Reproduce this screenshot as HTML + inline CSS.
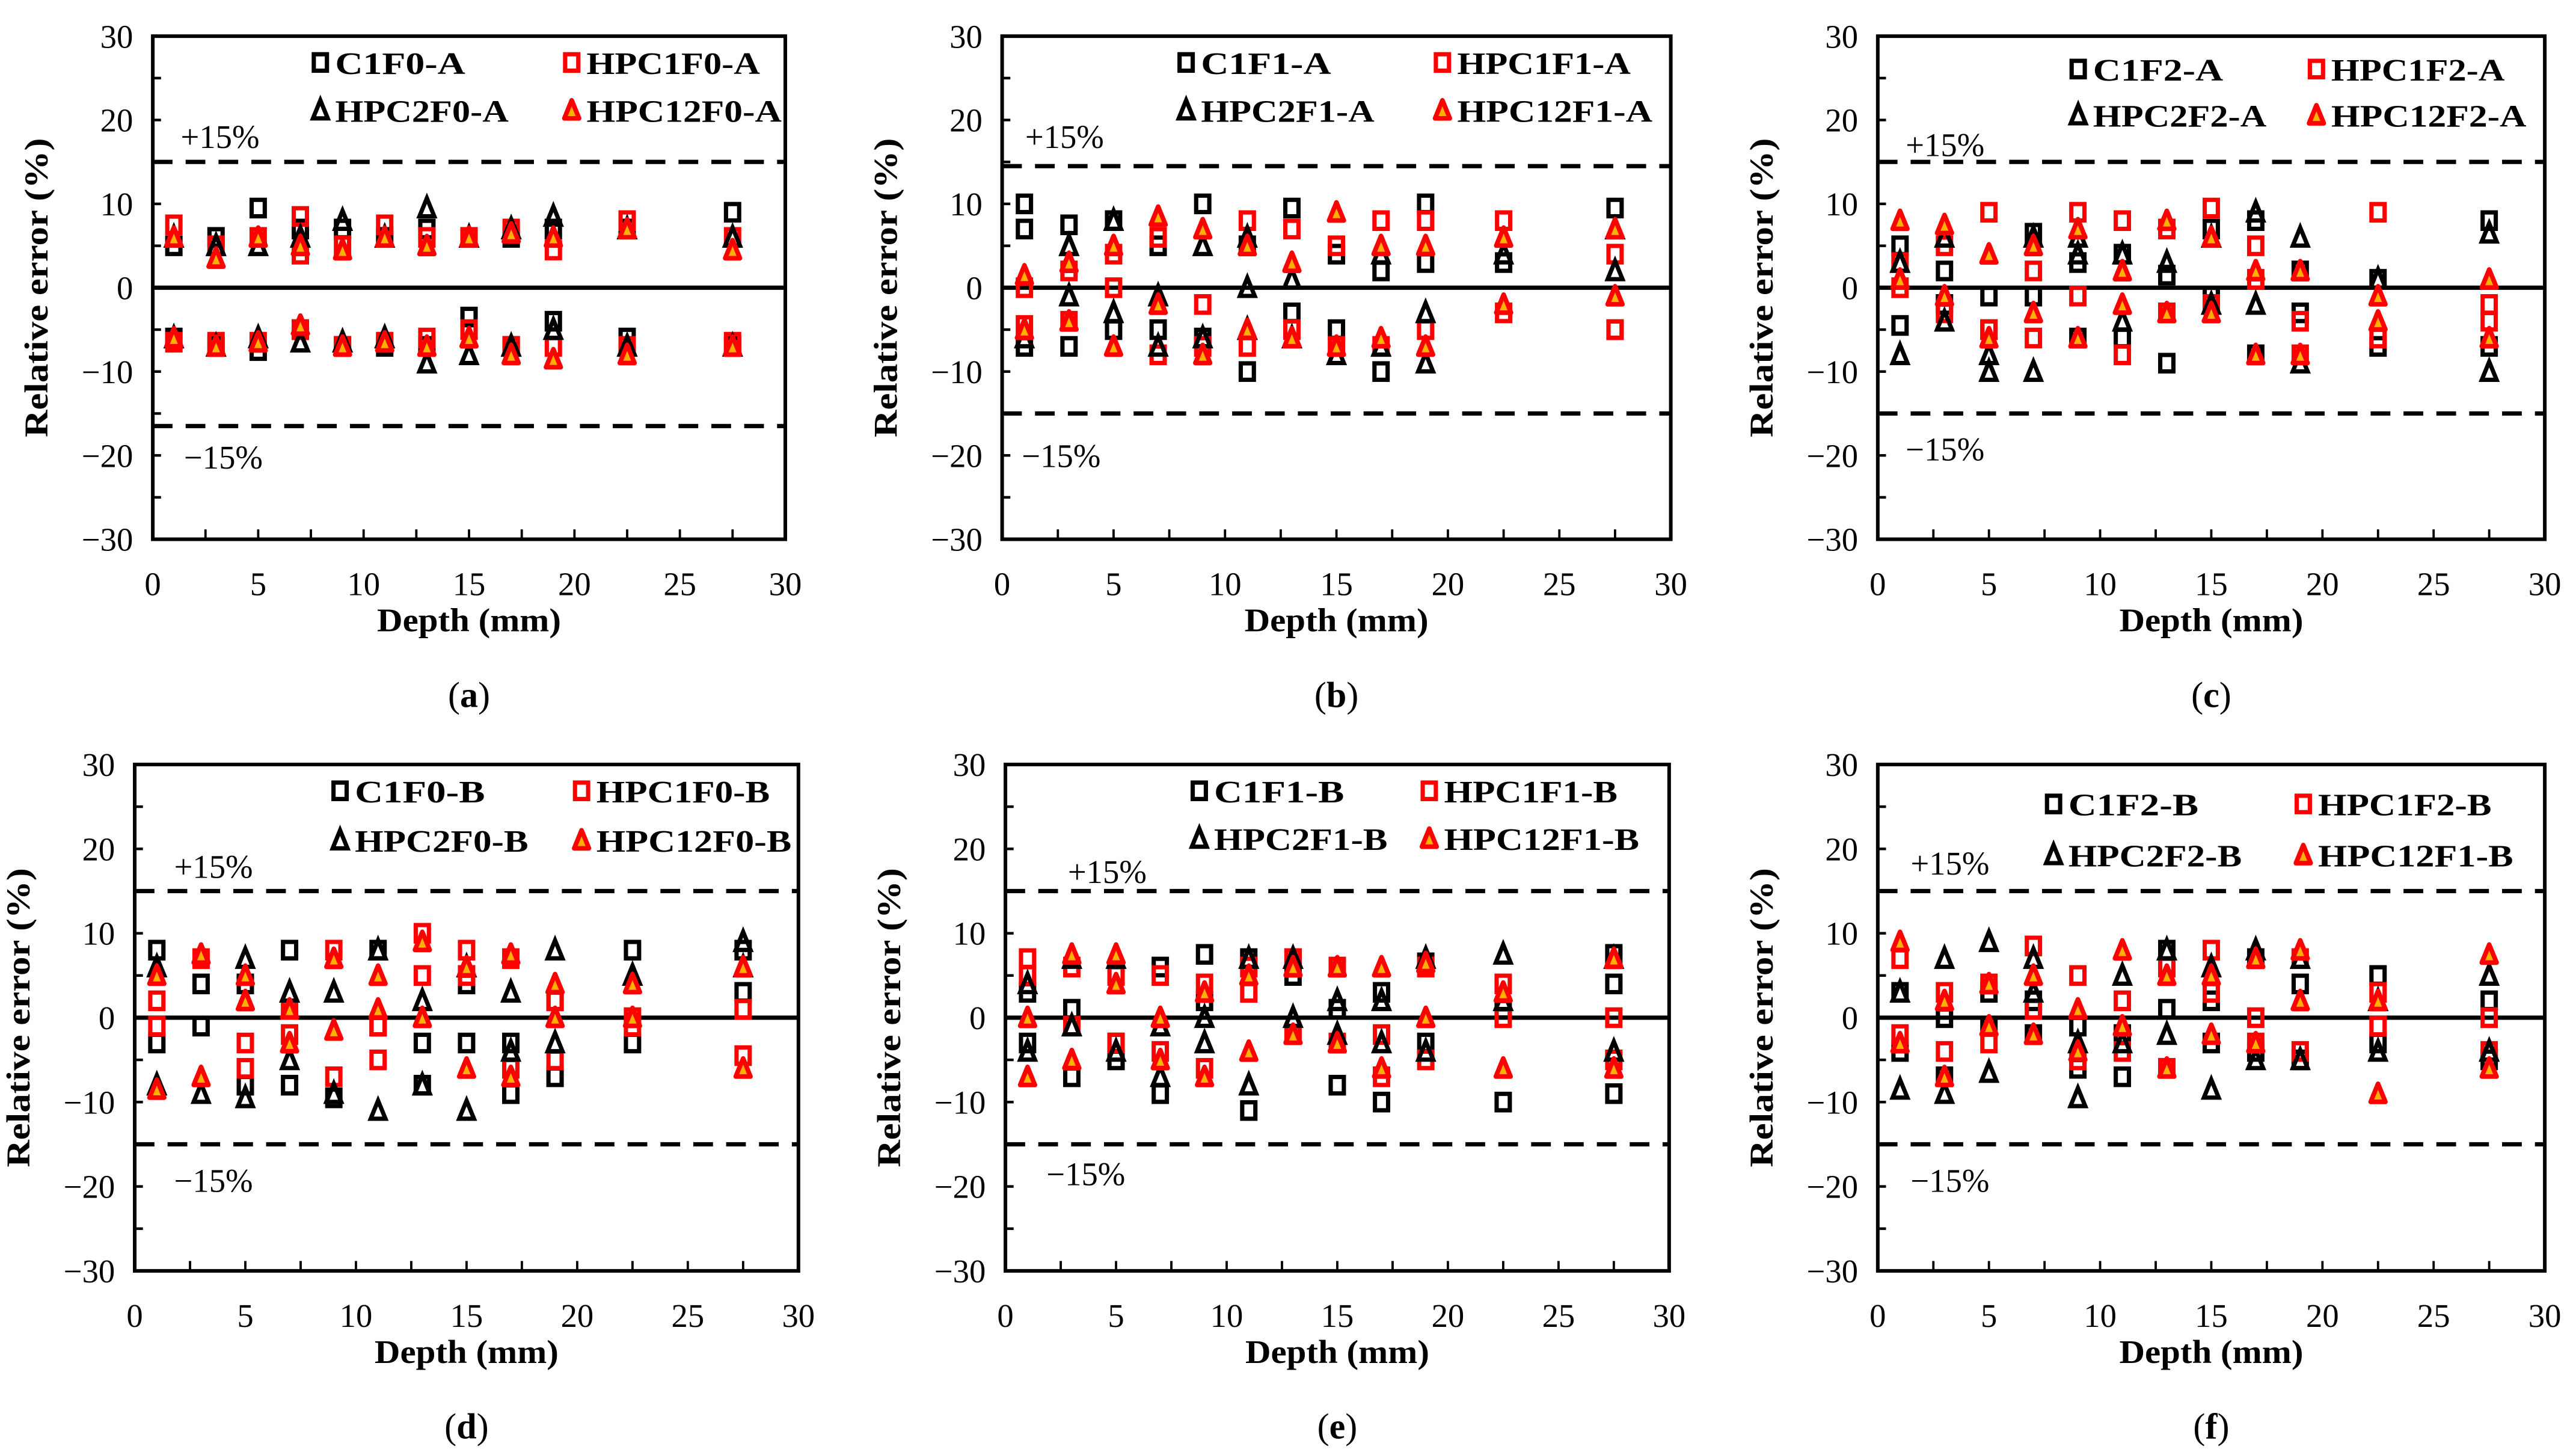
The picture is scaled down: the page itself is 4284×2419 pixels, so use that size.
<!DOCTYPE html>
<html><head><meta charset="utf-8"><style>
html,body{margin:0;padding:0;background:#fff;}
svg{display:block;font-family:"Liberation Serif","Times New Roman",serif;}
text{font-family:"Liberation Serif","Times New Roman",serif;fill:#000;}
</style></head><body>
<svg id="fig" width="4284" height="2419" viewBox="0 0 1568 885" preserveAspectRatio="none" font-family="Liberation Serif, Times New Roman, serif" xmlns="http://www.w3.org/2000/svg">
<rect width="1568" height="885" fill="#fff"/>
</svg>
<script>
// ---- data (depth mm, relative error %) ----
const xTicks=[0,5,10,15,20,25,30];
const yTicks=[30,20,10,0,-10,-20,-30];
const panelIds=['a','b','c','d','e','f'];
const seriesNames={
a:['C1F0-A','HPC1F0-A','HPC2F0-A','HPC12F0-A'],
b:['C1F1-A','HPC1F1-A','HPC2F1-A','HPC12F1-A'],
c:['C1F2-A','HPC1F2-A','HPC2F2-A','HPC12F2-A'],
d:['C1F0-B','HPC1F0-B','HPC2F0-B','HPC12F0-B'],
e:['C1F1-B','HPC1F1-B','HPC2F1-B','HPC12F1-B'],
f:['C1F2-B','HPC1F2-B','HPC2F2-B','HPC12F1-B']};
const boundsUpper={a:15,b:14.5,c:15,d:15,e:15,f:15};
const boundsLower={a:-16.5,b:-15,c:-15,d:-15,e:-15,f:-15};
// points as [depth, error]
const aS1=[[1,5],[3,6],[5,9.5],[7,7],[9,7],[11,6],[13,7],[15,6],[17,6],[19,7],[22.5,7],[27.5,9],[1,-6],[3,-7],[5,-7.5],[7,-5],[9,-7],[11,-7],[13,-7],[15,-3.5],[17,-7],[19,-4],[22.5,-6],[27.5,-7]];
const aS2=[[1,7.5],[3,5],[5,6],[7,4],[9,5],[11,7.5],[13,6],[15,6],[17,7],[19,4.5],[22.5,8],[27.5,6],[7,8.5],[1,-6.5],[3,-6.5],[5,-6.5],[7,-5],[9,-7],[11,-6.5],[13,-6],[15,-5],[17,-7],[19,-7],[22.5,-7],[27.5,-6.5]];
const aS3=[[1,6],[3,5],[5,5],[7,6],[9,8],[11,6],[13,9.5],[15,6],[17,7],[19,8.5],[22.5,7],[27.5,6],[1,-6],[3,-7],[5,-6],[7,-6.5],[9,-6.5],[11,-6],[13,-9],[15,-8],[17,-7],[19,-5],[22.5,-7],[27.5,-7]];
const aS4=[[1,6],[3,3.5],[5,6],[7,5],[9,4.5],[11,6],[13,5],[15,6],[17,6.5],[19,6],[22.5,7],[27.5,4.5],[1,-6],[3,-7],[5,-6.5],[7,-4.5],[9,-7],[11,-6.5],[13,-7],[15,-6],[17,-8],[19,-8.5],[22.5,-8],[27.5,-7]];
const bS1=[[1,10],[1,7],[1,-7],[3,7.5],[3,-7],[5,8],[5,-5],[7,5],[7,-5],[9,10],[9,-6],[11,5],[11,-10],[13,9.5],[13,-3],[15,4],[15,-5],[17,2],[17,-10],[19,10],[19,3],[22.5,3],[27.5,9.5],[27.5,-5]];
const bS2=[[1,0],[1,-4.5],[3,2],[3,-4],[5,0],[5,4],[7,6],[7,-8],[9,-2],[9,-7],[11,8],[11,-7],[13,7],[13,-5],[15,5],[15,-7],[17,8],[17,-7],[19,8],[19,-5],[22.5,8],[22.5,-3],[27.5,4],[27.5,-5]];
const bS3=[[1,-6],[3,5],[3,-1],[5,8],[5,-3],[7,-1],[7,-7],[9,5],[9,-6],[11,6],[11,-5],[11,0],[13,-6],[13,1],[15,-8],[17,4],[17,-7],[19,-3],[19,-9],[22.5,4],[27.5,2],[27.5,7]];
const bS4=[[1,1.5],[1,-5],[3,3],[3,-4],[5,5],[5,-7],[7,8.5],[7,-2],[9,7],[9,-8],[11,5],[11,-5],[13,3],[13,-6],[15,9],[15,-7],[17,5],[17,-6],[19,5],[19,-7],[22.5,6],[22.5,-2],[27.5,7],[27.5,-1]];
const cS1=[[1,5],[1,-4.5],[3,2],[3,-2],[5,-1],[5,-5],[7,6.5],[7,-1],[9,3],[9,-6],[11,4],[11,-6],[13,1.5],[13,-9],[15,7],[15,-1],[17,8],[17,-8],[19,2],[19,-3],[22.5,1],[22.5,-7],[27.5,8],[27.5,-7]];
const cS2=[[1,3],[1,0],[3,5],[3,-3],[5,9],[5,-5],[7,2],[7,-6],[9,9],[9,-1],[11,8],[11,-8],[13,7],[13,-3],[15,9.5],[15,-2],[17,5],[17,1],[19,-4],[19,-8],[22.5,9],[22.5,-6],[27.5,-2],[27.5,-4]];
const cS3=[[1,-8],[1,3],[3,-4],[3,6],[5,-10],[5,-8],[7,-10],[7,6],[9,6],[9,4],[11,-4],[11,4],[13,3],[15,6],[15,-2],[17,9],[17,-2],[19,6],[19,-9],[22.5,1],[27.5,-10],[27.5,6.5]];
const cS4=[[1,8],[1,1],[3,7.5],[3,-1],[5,4],[5,-6],[7,5],[7,-3],[9,7],[9,-6],[11,2],[11,-2],[13,8],[13,-3],[15,6],[15,-3],[17,2],[17,-8],[19,2],[19,-8],[22.5,-4],[22.5,-1],[27.5,1],[27.5,-6]];
const dS1=[[1,8],[1,-3],[3,4],[3,-1],[5,4],[5,-8],[7,8],[7,-8],[9,-9.5],[11,8],[11,-1],[13,-3],[13,-8],[15,4],[15,-3],[17,-3],[17,-9],[19,2],[19,-7],[22.5,8],[22.5,-3],[27.5,8],[27.5,3]];
const dS2=[[1,2],[1,-1],[3,7],[5,-3],[5,-6],[7,1],[7,-2],[9,8],[9,-7],[11,-1],[11,-5],[13,10],[13,5],[15,8],[15,5],[17,7],[17,-6],[19,2],[19,-5],[22.5,0],[22.5,-1],[27.5,1],[27.5,-4.5]];
const dS3=[[1,6],[1,-8],[3,-9],[5,7],[5,-9.5],[7,3],[7,-5],[9,3],[9,-9],[11,8],[11,-11],[13,2],[13,-8],[15,6],[15,-11],[17,3],[17,-4],[19,8],[19,-3],[22.5,5],[27.5,9],[27.5,6]];
const dS4=[[1,5],[1,-8.5],[3,7.5],[3,-7],[5,5],[5,2],[7,1],[7,-3],[9,7],[9,-1.5],[11,5],[11,1],[13,9],[13,0],[15,6],[15,-6],[17,7.5],[17,-7],[19,4],[19,0],[22.5,4],[22.5,0],[27.5,6],[27.5,-6]];
const eS1=[[1,-3],[1,3],[3,1],[3,-7],[5,-3],[5,-5],[7,6],[7,-9],[9,7.5],[9,2],[11,7],[11,-11],[13,7],[13,5],[15,1],[15,-8],[17,3],[17,-10],[19,6.5],[19,-3],[22.5,1],[22.5,-10],[27.5,7.5],[27.5,-9],[27.5,4]];
const eS2=[[1,7],[1,5],[3,6],[3,-1],[5,5],[5,-3],[7,5],[7,-4],[9,4],[9,-6],[11,3],[11,6],[13,7],[13,-2],[15,6],[15,-3],[17,-2],[17,-7],[19,6],[19,-5],[22.5,4],[22.5,0],[27.5,0],[27.5,-5]];
const eS3=[[1,4],[1,-4],[3,7],[3,-1],[5,7],[5,-4],[7,-1],[7,-7],[9,0],[9,-3],[11,7],[11,-8],[13,7],[13,0],[15,2],[15,-2],[17,2],[17,-3],[19,7],[19,-4],[22.5,7.5],[22.5,2],[27.5,7],[27.5,-4]];
const eS4=[[1,0],[1,-7],[3,7.5],[3,-5],[5,7.5],[5,4],[7,0],[7,-5],[9,3],[9,-7],[11,5],[11,-4],[13,6],[13,-2],[15,6],[15,-3],[17,6],[17,-6],[19,6.5],[19,0],[22.5,3],[22.5,-6],[27.5,7],[27.5,-6]];
const fS1=[[1,3],[1,-4],[3,0],[3,-7],[5,3],[5,-1],[7,2],[7,-2],[9,-1],[9,-6],[11,-2],[11,-7],[13,8],[13,1],[15,2],[15,-3],[17,7],[17,-4],[19,4],[19,-5],[22.5,5],[22.5,-3],[27.5,2],[27.5,-5]];
const fS2=[[1,7],[1,-2],[3,3],[3,-4],[5,4],[5,-3],[7,8.5],[7,1],[9,5],[9,-5],[11,2],[11,-4],[13,6],[13,-6],[15,8],[15,3],[17,0],[17,-3],[19,7],[19,-4],[22.5,3],[22.5,-1],[27.5,0],[27.5,-4]];
const fS3=[[1,-8.5],[1,3],[3,7],[3,-9],[5,9],[5,-6.5],[7,7],[7,3],[9,-9.5],[9,-3],[11,5],[11,-3],[13,8],[13,-2],[15,6],[15,-8.5],[17,8],[17,-5],[19,7],[19,-5],[22.5,2],[22.5,-4],[27.5,5],[27.5,-4]];
const fS4=[[1,9],[1,-3],[3,2],[3,-7],[5,4],[5,-1],[7,5],[7,-2],[9,1],[9,-4],[11,8],[11,-1],[13,5],[13,-6],[15,5],[15,-2],[17,7],[17,-3],[19,8],[19,2],[22.5,2],[22.5,-9],[27.5,7.5],[27.5,-6]];
const seriesData={a:[aS1,aS2,aS3,aS4],b:[bS1,bS2,bS3,bS4],c:[cS1,cS2,cS3,cS4],d:[dS1,dS2,dS3,dS4],e:[eS1,eS2,eS3,eS4],f:[fS1,fS2,fS3,fS4]};

// ---- layout ----
const layout={
a:{x0:93,x1:478,yt:22,yb:328,leg:[195,348],legY:[38,67],pl:[110,83],ml:[112,278]},
b:{x0:610,x1:1017,yt:22,yb:328,leg:[722,878],legY:[38,67],pl:[624,83],ml:[622,277]},
c:{x0:1143,x1:1549,yt:22,yb:328,leg:[1265,1410],legY:[42,70],pl:[1160,88],ml:[1160,273]},
d:{x0:82,x1:486,yt:465,yb:773,leg:[207,354],legY:[481,511],pl:[106,527],ml:[106,718]},
e:{x0:612,x1:1016,yt:465,yb:773,leg:[730,870],legY:[481,510],pl:[650,530],ml:[637,714]},
f:{x0:1143,x1:1549,yt:465,yb:773,leg:[1250,1402],legY:[489,520],pl:[1163,525],ml:[1163,718]}};
const NS='http://www.w3.org/2000/svg';
const FF='Liberation Serif, Times New Roman, serif';
const svg=document.getElementById('fig');
function mk(tag,attrs,parent){const e=document.createElementNS(NS,tag);for(const k in attrs)e.setAttribute(k,attrs[k]);if(tag==='text')e.setAttribute('font-family',FF);(parent||svg).appendChild(e);return e;}
function marker(g,type,cx,cy){
  let e;
  if(type===0||type===1){
    e=mk('rect',{x:cx-4,y:cy-5,width:8,height:10,fill:'none',stroke:type===0?'#000':'#ff0000','stroke-width':2.6},g);
  }else if(type===2){
    e=mk('polygon',{points:`${cx},${cy-6} ${cx+4.5},${cy+5} ${cx-4.5},${cy+5}`,fill:'none',stroke:'#000','stroke-width':2.6},g);
  }else{
    e=mk('polygon',{points:`${cx},${cy-6} ${cx+4.5},${cy+5} ${cx-4.5},${cy+5}`,fill:'#ffb000',stroke:'#ff0000','stroke-width':2.8,'stroke-linejoin':'round'},g);
  }
  return e;
}
function legWidth(n){return n.length*13.2;}
panelIds.forEach(p=>{
  const L=layout[p];
  const sx=v=>L.x0+(v-0)/30*(L.x1-L.x0);
  const sy=v=>L.yt+(30-v)/60*(L.yb-L.yt);
  const g=mk('g',{});
  
  
  const box=mk('rect',{x:L.x0,y:L.yt,width:L.x1-L.x0,height:L.yb-L.yt,fill:'none',stroke:'#000','stroke-width':2.2},g);
  
  
  for(let v=-25;v<=25;v+=5){const t=mk('line',{x1:L.x0,x2:L.x0+5,y1:sy(v),y2:sy(v),stroke:'#000','stroke-width':1.6},g);
    }
  for(let v=2.5;v<30;v+=2.5){const t=mk('line',{x1:sx(v),x2:sx(v),y1:L.yb,y2:L.yb-6,stroke:'#000','stroke-width':1.4},g);
    }
  yTicks.forEach(v=>{const t=mk('text',{x:L.x0-12,y:sy(v)+7,'font-size':20,'text-anchor':'end'},g);t.textContent=v<0?'\u2212'+(-v):String(v);
    });
  xTicks.forEach(v=>{const t=mk('text',{x:sx(v),y:L.yb+34,'font-size':20,'text-anchor':'middle'},g);t.textContent=String(v);
    });
  const xt=mk('text',{x:(L.x0+L.x1)/2,y:L.yb+56,'font-size':20,'font-weight':'bold','text-anchor':'middle',textLength:112,lengthAdjust:'spacingAndGlyphs'},g);xt.textContent='Depth (mm)';
  
  const ycx=L.x0-64,ycy=(L.yt+L.yb)/2;
  const yt=mk('text',{x:ycx,y:ycy,'font-size':20,'font-weight':'bold','text-anchor':'middle',transform:`rotate(-90 ${ycx} ${ycy})`,textLength:182,lengthAdjust:'spacingAndGlyphs'},g);yt.textContent='Relative error (%)';
  
  const z=mk('line',{x1:L.x0,x2:L.x1,y1:sy(0),y2:sy(0),stroke:'#000','stroke-width':2.6},g);
  
  [boundsUpper[p],boundsLower[p]].forEach((v,i)=>{const l=mk('line',{x1:L.x0,x2:L.x1,y1:sy(v),y2:sy(v),stroke:'#000','stroke-width':2.6,'stroke-dasharray':'12 8'},g);
    });
  const pt=mk('text',{x:L.pl[0],y:L.pl[1]+7,'font-size':20},g);pt.textContent='+15%';
  
  const mt=mk('text',{x:L.ml[0],y:L.ml[1]+7,'font-size':20},g);mt.textContent='\u221215%';
  
  seriesData[p].forEach((arr,si)=>{
    const sg=mk('g',{},g);
    
    
    arr.forEach(d=>{const m=marker(sg,si,sx(d[0]),sy(d[1]));
      });
  });
  seriesNames[p].forEach((n,si)=>{
    const lx=L.leg[si%2],ly=L.legY[Math.floor(si/2)];
    const lg=mk('g',{},g);
    
    
    marker(lg,si,lx,ly);
    const t=mk('text',{x:lx+9,y:ly+7,'font-size':19,'font-weight':'bold',textLength:legWidth(n),lengthAdjust:'spacingAndGlyphs'},lg);t.textContent=n;
  });
  const pl=mk('text',{x:(L.x0+L.x1)/2,y:L.yb+102,'font-size':22,'text-anchor':'middle'},g);
  pl.innerHTML='(<tspan font-weight="bold">'+p+'</tspan>)';
  
});
</script>
</body></html>
